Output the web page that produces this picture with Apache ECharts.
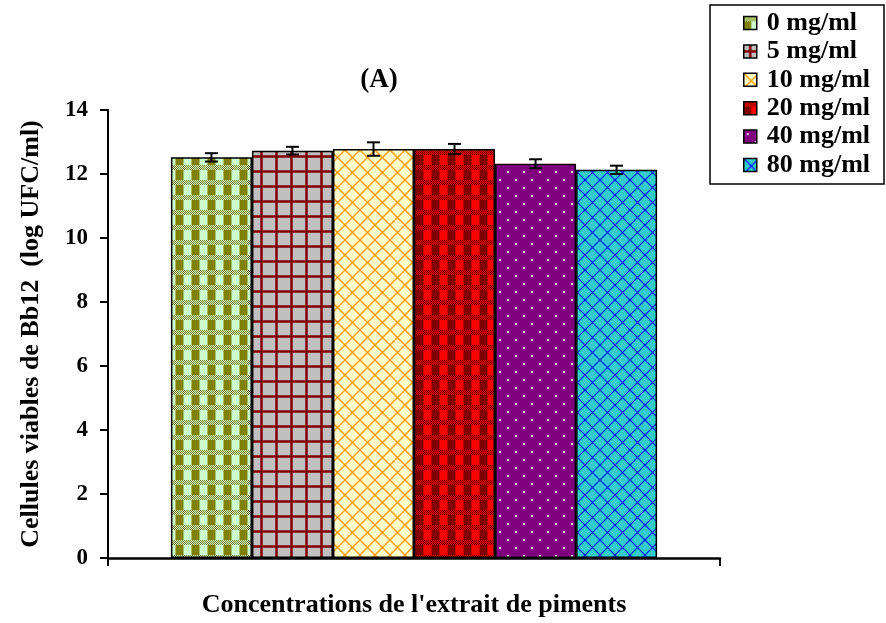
<!DOCTYPE html>
<html>
<head>
<meta charset="utf-8">
<script src="https://cdn.jsdelivr.net/npm/echarts@6/dist/echarts.min.js"></script>
<style>
html,body{margin:0;padding:0;background:#fff;}
#chart{width:886px;height:623px;}
</style>
</head>
<body>
<div id="chart"></div>
<script>
// ---- data ----
const categories = ['Concentrations'];
const seriesNames = ['0 mg/ml', '5 mg/ml', '10 mg/ml', '20 mg/ml', '40 mg/ml', '80 mg/ml'];
const means = [12.52, 12.73, 12.78, 12.78, 12.32, 12.13];
const errors = [0.13, 0.12, 0.21, 0.16, 0.14, 0.13];
const yTicks = [0, 2, 4, 6, 8, 10, 12, 14];

// ---- patterns ----
function mk(w, h, draw) {
  const c = document.createElement('canvas');
  c.width = w; c.height = h;
  const g = c.getContext('2d');
  draw(g, w, h);
  return { image: c, repeat: 'repeat' };
}
function plaid(light, dark, mid) {
  return mk(16, 15, (g, w, h) => {
    g.fillStyle = light; g.fillRect(0, 0, w, h);
    // dithered stripe rows 0-4
    g.fillStyle = dark;
    for (let y = 0; y < 5; y++) for (let x = 0; x < w; x++) if ((x + y) % 2 === 0) g.fillRect(x, y, 1, 1);
    // block row
    g.fillStyle = dark; g.fillRect(0, 5, 7, 10);
    g.fillStyle = mid; g.fillRect(7, 5, 1, 10); g.fillRect(15, 5, 1, 10);
  });
}
const patterns = [
  plaid('#CCFFCC', '#808000', '#A6BF66'),
  mk(15, 15, (g, w, h) => {
    g.fillStyle = '#C0C0C0'; g.fillRect(0, 0, w, h);
    g.fillStyle = '#A06060'; g.fillRect(5, 0, 3, h); g.fillRect(0, 5, w, 3);
    g.fillStyle = '#800000'; g.fillRect(5.5, 0, 2, h); g.fillRect(0, 5.5, w, 2);
  }),
  mk(15, 15, (g, w, h) => {
    g.fillStyle = '#FFFFCC'; g.fillRect(0, 0, w, h);
    g.strokeStyle = '#FF9900'; g.lineWidth = 1.4;
    g.beginPath();
    g.moveTo(-2, -2); g.lineTo(w + 2, h + 2);
    g.moveTo(-2, h + 2); g.lineTo(w + 2, -2);
    g.stroke();
  }),
  plaid('#FF0000', '#800000', '#C00000'),
  mk(16, 16, (g, w, h) => {
    g.fillStyle = '#800080'; g.fillRect(0, 0, w, h);
    g.fillStyle = '#F0D0F0';
    g.fillRect(3, 3, 2, 2); g.fillRect(11, 11, 2, 2);
  }),
  mk(15, 15, (g, w, h) => {
    g.fillStyle = '#33CCCC'; g.fillRect(0, 0, w, h);
    g.strokeStyle = '#0000FF'; g.lineWidth = 1.2;
    g.beginPath();
    g.moveTo(-2, -2); g.lineTo(w + 2, h + 2);
    g.moveTo(-2, h + 2); g.lineTo(w + 2, -2);
    g.stroke();
  })
];

const FONT = 'Liberation Serif';
const barRatio = 0.1324;

const barSeries = seriesNames.map((name, i) => ({
  name: name,
  type: 'bar',
  data: [means[i]],
  barWidth: (barRatio * 100) + '%',
  barGap: '0%',
  itemStyle: { color: patterns[i], borderColor: '#000', borderWidth: 1.5 },
  emphasis: { disabled: true },
  animation: false
}));

const errSeries = {
  name: 'err',
  type: 'custom',
  data: means.map((m, i) => [0, m, errors[i], i]),
  z: 10,
  animation: false,
  renderItem: function (params, api) {
    const m = api.value(1), e = api.value(2), i = api.value(3);
    const c = api.coord([api.value(0), m]);
    const band = api.size([1, 0])[0];
    const x = c[0] + (i - 2.5) * band * barRatio;
    const yt = api.coord([0, m + e])[1];
    const yb = api.coord([0, m - e])[1];
    const cap = 6.5;
    const st = { stroke: '#000', lineWidth: 2 };
    return {
      type: 'group',
      children: [
        { type: 'line', shape: { x1: x, y1: yt, x2: x, y2: yb }, style: st },
        { type: 'line', shape: { x1: x - cap, y1: yt, x2: x + cap, y2: yt }, style: st },
        { type: 'line', shape: { x1: x - cap, y1: yb, x2: x + cap, y2: yb }, style: st }
      ]
    };
  }
};

const chart = echarts.init(document.getElementById('chart'), null, { renderer: 'canvas' });
chart.setOption({
  backgroundColor: '#fff',
  animation: false,
  title: {
    text: '(A)',
    left: 374, top: 62,
    textAlign: 'center',
    textStyle: { fontFamily: FONT, fontWeight: 'bold', fontSize: 27, color: '#000' }
  },
  legend: {
    data: seriesNames,
    orient: 'vertical',
    left: 710, top: 5,
    width: 175,
    padding: [5, 14, 6, 33],
    itemGap: 2.4,
    itemWidth: 13, itemHeight: 13,
    icon: 'rect',
    borderColor: '#000', borderWidth: 1.5,
    itemStyle: { borderColor: '#000', borderWidth: 1.5 },
    selectedMode: false,
    textStyle: { fontFamily: FONT, fontWeight: 'bold', fontSize: 26, color: '#000', lineHeight: 26, padding: [0, 0, 0, 5] }
  },
  grid: { left: 108, right: 166, top: 110, bottom: 65, containLabel: false },
  xAxis: {
    type: 'category',
    data: categories,
    name: "Concentrations de l'extrait de piments",
    nameLocation: 'middle',
    nameGap: 34,
    nameTextStyle: { fontFamily: FONT, fontWeight: 'bold', fontSize: 26, color: '#000' },
    axisLine: { lineStyle: { color: '#000', width: 2.5 } },
    axisTick: { show: true, length: 8, lineStyle: { color: '#000', width: 2 } },
    axisLabel: { show: false }
  },
  yAxis: {
    type: 'value',
    min: yTicks[0], max: yTicks[yTicks.length - 1], interval: 2,
    name: 'Cellules viables de Bb12  (log UFC/ml)',
    nameLocation: 'middle',
    nameGap: 64,
    nameTextStyle: { fontFamily: FONT, fontWeight: 'bold', fontSize: 26, color: '#000' },
    axisLine: { show: true, lineStyle: { color: '#000', width: 2 } },
    axisTick: { show: true, length: 8, lineStyle: { color: '#000', width: 2 } },
    axisLabel: { fontFamily: FONT, fontWeight: 'bold', fontSize: 23, color: '#000', margin: 20 },
    splitLine: { show: false }
  },
  series: barSeries.concat([errSeries])
});
</script>
</body>
</html>
